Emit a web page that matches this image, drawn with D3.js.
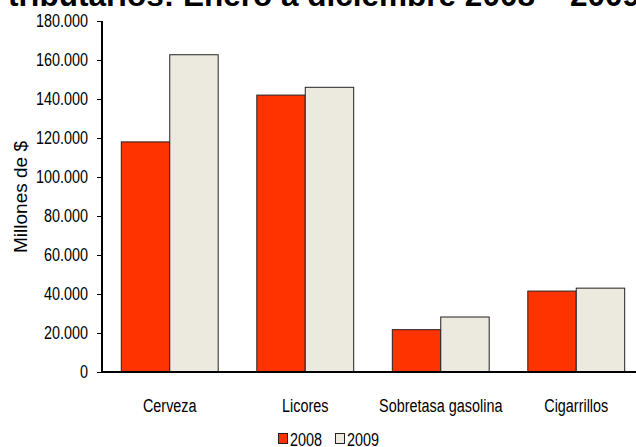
<!DOCTYPE html>
<html><head><meta charset="utf-8">
<script src="https://cdn.jsdelivr.net/npm/d3@7"></script>
<style>html,body{margin:0;padding:0;background:#fff;}svg{display:block;}</style>
</head><body>
<svg id="c" width="636" height="447"></svg>
<script>
const categories = ["Cerveza", "Licores", "Sobretasa gasolina", "Cigarrillos"];
const seriesNames = ["2008", "2009"];
const values2008 = [118000, 142000, 21700, 41500];
const values2009 = [162700, 146000, 28200, 43000];
const yTicks = [0, 20000, 40000, 60000, 80000, 100000, 120000, 140000, 160000, 180000];
const colors = ["#FF3300", "#ECE9DF"];
const titleText = "tributarios: Enero a diciembre 2008 – 2009";

const svg = d3.select("#c");
const sans = "'Liberation Sans',Arial,sans-serif";
const squeeze = 0.8;
function narrowText(sel) {
  sel.attr("font-family", sans).attr("font-size", 18).attr("fill", "#000")
    .each(function() {
      const w = this.getComputedTextLength();
      d3.select(this).attr("textLength", w * squeeze).attr("lengthAdjust", "spacingAndGlyphs");
    });
}

svg.append("text").attr("x", 8).attr("y", 6)
  .attr("font-family", sans).attr("font-weight", "bold")
  .attr("font-size", 31.5).attr("fill", "#000").text(titleText);

const x0 = d3.scaleBand().domain(categories).range([102, 644]).paddingInner(0.285).paddingOuter(0.1425);
const x1 = d3.scaleBand().domain(seriesNames).range([0, x0.bandwidth()]);
const y = d3.scaleLinear().domain([0, 180000]).range([372, 21]);

const fmt = v => v === 0 ? "0" : d3.format(",")(v).replace(/,/g, ".");

const yAxis = svg.append("g").attr("transform", "translate(102,0)")
  .call(d3.axisLeft(y).tickValues(yTicks).tickFormat(fmt).tickSize(5).tickPadding(9));
yAxis.select(".domain").attr("stroke", "#000").attr("stroke-width", 2).attr("d", "M0,21V372");
yAxis.selectAll(".tick line").attr("stroke", "#000");
yAxis.selectAll(".tick text").attr("x", -14).call(narrowText);

const data = categories.map((c, i) => ({c, v: [values2008[i], values2009[i]]}));
const g = svg.append("g");
data.forEach(d => {
  seriesNames.forEach((s, j) => {
    g.append("rect")
      .attr("x", x0(d.c) + x1(s))
      .attr("y", y(d.v[j]))
      .attr("width", x1.bandwidth())
      .attr("height", y(0) - y(d.v[j]))
      .attr("fill", colors[j]).attr("stroke", "#222").attr("stroke-width", 1);
  });
});

const xAxis = svg.append("g").attr("transform", "translate(0,372)")
  .call(d3.axisBottom(x0).tickSize(0));
xAxis.select(".domain").attr("stroke", "#000").attr("stroke-width", 2).attr("d", "M101,0H644");
xAxis.selectAll(".tick text").attr("y", 40).attr("dy", 0).call(narrowText);

svg.append("text").attr("transform", "translate(27,197) rotate(-90)")
  .attr("text-anchor", "middle").attr("font-family", sans)
  .attr("font-size", 19).attr("fill", "#000").text("Millones de $");

const legX = [278.5, 335.5];
seriesNames.forEach((s, j) => {
  svg.append("rect").attr("x", legX[j]).attr("y", 433.5).attr("width", 9).attr("height", 10)
    .attr("fill", colors[j]).attr("stroke", "#222").attr("stroke-width", 1);
  svg.append("text").attr("x", legX[j] + 11.5).attr("y", 446).text(s).call(narrowText);
});
</script>
</body></html>
